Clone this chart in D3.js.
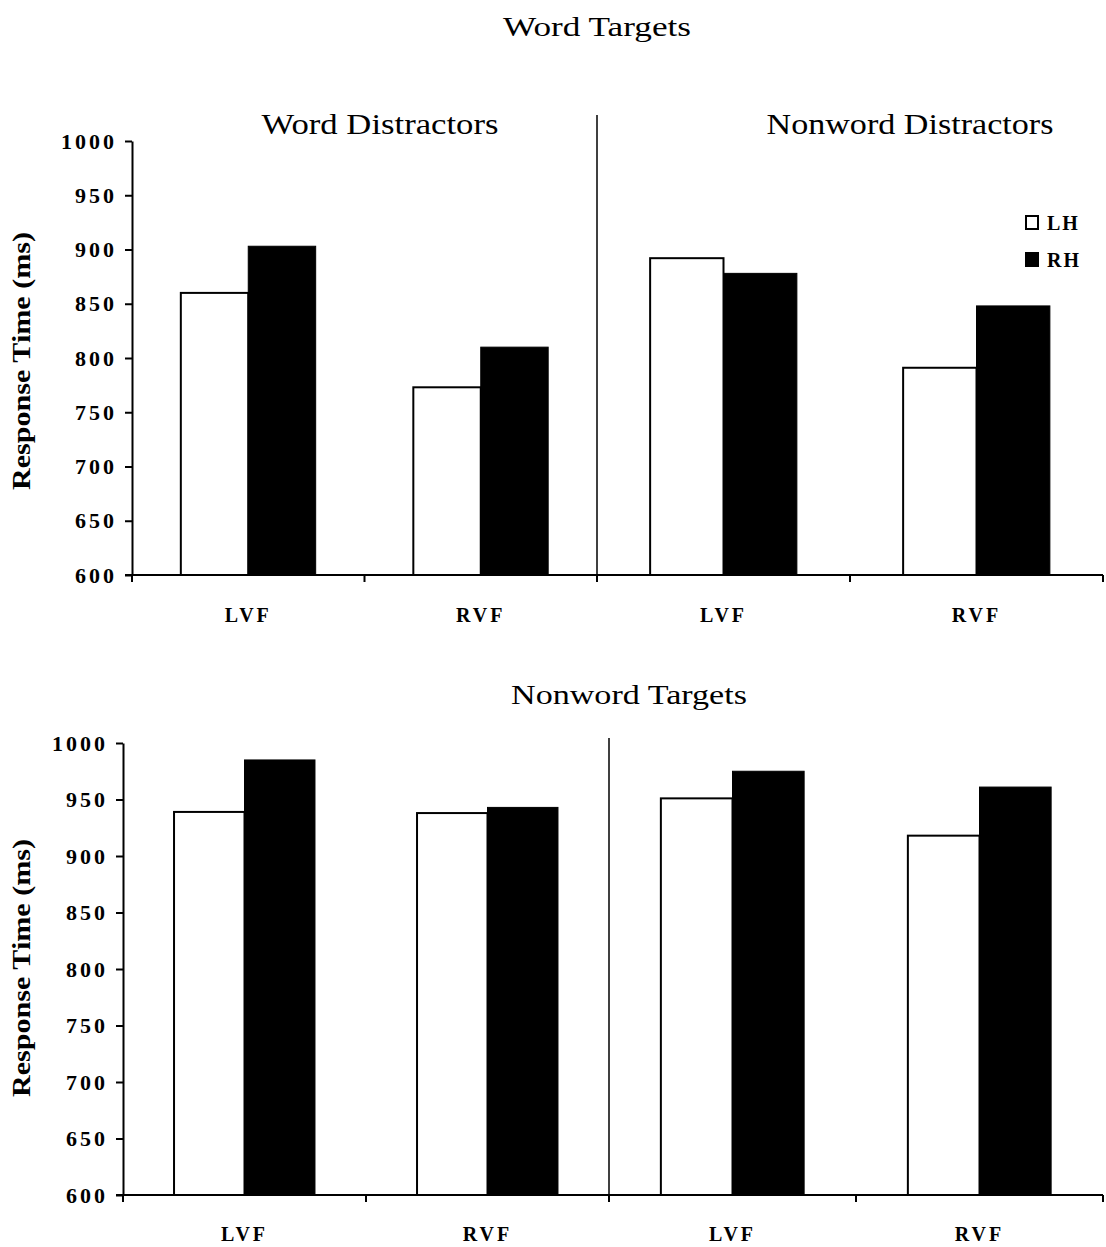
<!DOCTYPE html>
<html>
<head>
<meta charset="utf-8">
<script src="https://cdn.jsdelivr.net/npm/d3@7"></script>
<style>
  html, body { margin: 0; padding: 0; background: #fff; }
  svg { display: block; }
  text { font-family: "Liberation Serif", "Times New Roman", serif; fill: #000; }
</style>
</head>
<body>
<svg id="chart" width="1106" height="1247"></svg>
<script>
// ---- data ----
const fields = ["LVF", "RVF"];
const hemis = ["LH", "RH"];
const distractorPanels = ["Word Distractors", "Nonword Distractors"];
const yTicks = [600, 650, 700, 750, 800, 850, 900, 950, 1000];
// order: [Word Distractors LVF, Word Distractors RVF, Nonword Distractors LVF, Nonword Distractors RVF]
const wordTargetsLH = [860, 773, 892, 791];
const wordTargetsRH = [903, 810, 878, 848];
const nonwordTargetsLH = [939, 938, 951, 918];
const nonwordTargetsRH = [985, 943, 975, 961];
const chartTitles = ["Word Targets", "Nonword Targets"];
const yTitle = "Response Time (ms)";

const svg = d3.select("#chart");

function drawChart(cfg) {
  const g = svg.append("g");
  const y = d3.scaleLinear().domain([600, 1000]).range([cfg.y0, cfg.y1]);

  // panel scales
  const panelRanges = [[cfg.left, cfg.divX], [cfg.divX, cfg.right]];
  const xs = panelRanges.map(r => d3.scaleBand().domain(fields).range(r)
      .paddingInner(0.42).paddingOuter(0.21));

  // bars
  const rows = [];
  distractorPanels.forEach((p, pi) => {
    fields.forEach((f, fi) => {
      const idx = pi * 2 + fi;
      rows.push({pi, f, h: "LH", v: cfg.lh[idx]});
      rows.push({pi, f, h: "RH", v: cfg.rh[idx]});
    });
  });
  const inner = d => d3.scaleBand().domain(hemis).range([0, xs[d.pi].bandwidth()]);
  g.selectAll("rect.bar").data(rows).join("rect")
    .attr("class", "bar")
    .attr("x", d => xs[d.pi](d.f) + inner(d)(d.h))
    .attr("width", d => inner(d).bandwidth())
    .attr("y", d => y(d.v))
    .attr("height", d => y(600) - y(d.v))
    .attr("fill", d => d.h === "LH" ? "#fff" : "#000")
    .attr("stroke", "#000")
    .attr("stroke-width", d => d.h === "LH" ? 2 : 1);

  // y axis
  const yAxis = d3.axisLeft(y).tickValues(yTicks).tickFormat(d3.format("d"))
    .tickSize(7).tickSizeOuter(0).tickPadding(8);
  const ya = g.append("g").attr("transform", `translate(${cfg.left},0)`).call(yAxis);
  ya.select(".domain").attr("stroke-width", 2);
  ya.selectAll(".tick line").attr("stroke-width", 2);
  ya.selectAll(".tick text")
    .style("font-family", '"Liberation Serif", serif')
    .style("font-weight", "bold").style("font-size", "22px")
    .style("letter-spacing", "3px").attr("fill", "#000");

  // x axis line
  g.append("line").attr("x1", cfg.left - 7).attr("x2", cfg.right)
    .attr("y1", y(600)).attr("y2", y(600))
    .attr("stroke", "#000").attr("stroke-width", 2);
  // x ticks at band boundaries
  const xt = [cfg.left];
  xs.forEach(s => { xt.push(s.range()[0] + s.step()); xt.push(s.range()[1]); });
  g.selectAll("line.xt").data(Array.from(new Set(xt))).join("line")
    .attr("class", "xt")
    .attr("x1", d => d).attr("x2", d => d)
    .attr("y1", y(600)).attr("y2", y(600) + 7)
    .attr("stroke", "#000").attr("stroke-width", 2);

  // category labels
  const labs = [];
  xs.forEach((s, pi) => fields.forEach(f => labs.push({x: s(f) + s.bandwidth() / 2 + cfg.labShift[pi], f})));
  g.selectAll("text.xl").data(labs).join("text")
    .attr("class", "xl")
    .attr("x", d => d.x).attr("y", cfg.labY)
    .attr("text-anchor", "middle")
    .style("font-weight", "bold").style("font-size", "20px").style("letter-spacing", "3px")
    .text(d => d.f);

  // divider
  g.append("line").attr("x1", cfg.divX).attr("x2", cfg.divX)
    .attr("y1", cfg.divTop).attr("y2", y(600) + 7)
    .attr("stroke", "#000").attr("stroke-width", 1.5);

  // y title
  g.append("text")
    .attr("transform", `translate(${cfg.yTitleX},${cfg.yTitleY}) rotate(-90)`)
    .attr("text-anchor", "middle")
    .attr("textLength", 258).attr("lengthAdjust", "spacingAndGlyphs")
    .style("font-weight", "bold").style("font-size", "25px")
    .text(yTitle);

  // chart title
  g.append("text").attr("x", cfg.titleX).attr("y", cfg.titleY)
    .attr("text-anchor", "middle")
    .attr("textLength", cfg.titleW).attr("lengthAdjust", "spacingAndGlyphs")
    .style("font-size", "27px")
    .text(cfg.title);

  return {g, y, xs};
}

// Top chart
const topChart = drawChart({
  y0: 575, y1: 141, left: 132, divX: 597, right: 1103,
  lh: wordTargetsLH, rh: wordTargetsRH,
  divTop: 115, labY: 622, labShift: [0, 0],
  yTitleX: 30, yTitleY: 361,
  title: chartTitles[0], titleX: 597, titleY: 36, titleW: 188
});
// subtitles
const subPos = [{x: 380, w: 237}, {x: 910, w: 287}];
topChart.g.selectAll("text.sub").data(distractorPanels).join("text")
  .attr("class", "sub")
  .attr("x", (d, i) => subPos[i].x).attr("y", 134)
  .attr("text-anchor", "middle")
  .attr("textLength", (d, i) => subPos[i].w).attr("lengthAdjust", "spacingAndGlyphs")
  .style("font-size", "29px")
  .text(d => d);

// legend
const legend = topChart.g.append("g");
hemis.forEach((h, i) => {
  const yy = 216 + i * 37;
  legend.append("rect").attr("x", 1026).attr("y", yy).attr("width", 12).attr("height", 13)
    .attr("fill", h === "LH" ? "#fff" : "#000").attr("stroke", "#000").attr("stroke-width", 2);
  legend.append("text").attr("x", 1047).attr("y", yy + 14)
    .style("font-weight", "bold").style("font-size", "20px").style("letter-spacing", "2px")
    .text(h);
});

// Bottom chart
drawChart({
  y0: 1195, y1: 743, left: 123, divX: 609, right: 1103,
  lh: nonwordTargetsLH, rh: nonwordTargetsRH,
  divTop: 738, labY: 1241, labShift: [0, 0],
  yTitleX: 30, yTitleY: 968,
  title: chartTitles[1], titleX: 629, titleY: 704, titleW: 236
});
</script>
</body>
</html>
